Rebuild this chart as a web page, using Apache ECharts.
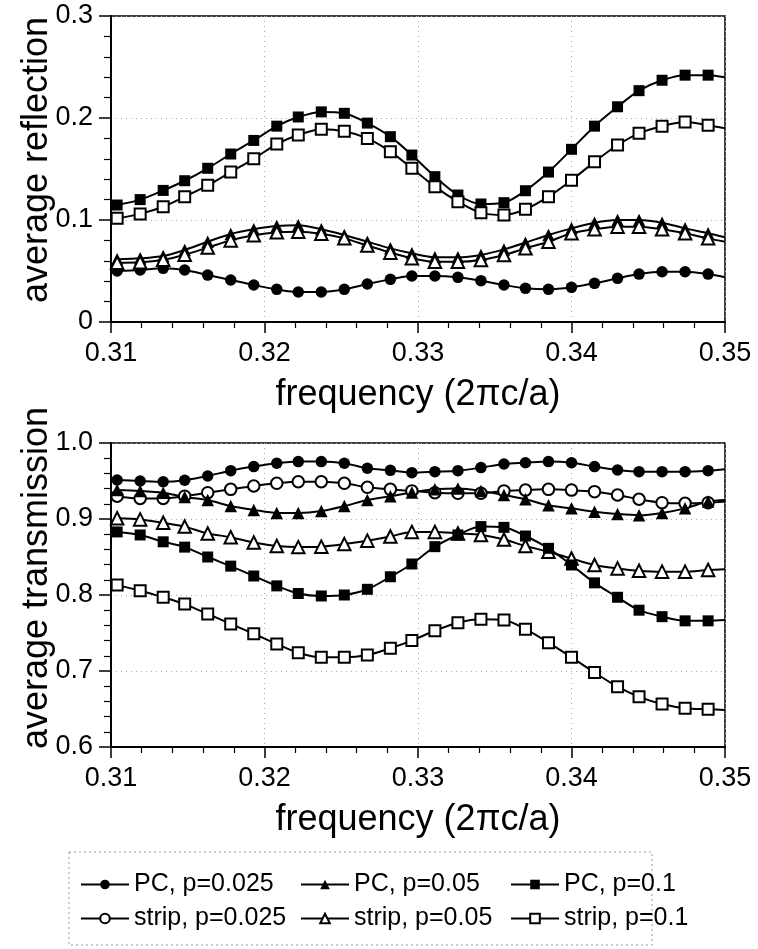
<!DOCTYPE html>
<html><head><meta charset="utf-8">
<script src="https://cdn.jsdelivr.net/npm/echarts@6/dist/echarts.min.js"></script>
<style>html,body{margin:0;padding:0;background:#fff}#c{width:758px;height:949px}</style>
</head><body><div id="c"></div>
<script>
// frequency (2πc/a); last entry is the curve end (no marker)
const freq = [0.3104, 0.3119, 0.3134, 0.3148, 0.3163, 0.3178, 0.3193, 0.3208, 0.3222, 0.3237, 0.3252, 0.3267, 0.3282, 0.3296, 0.3311, 0.3326, 0.3341, 0.3356, 0.3370, 0.3385, 0.3400, 0.3415, 0.3430, 0.3444, 0.3459, 0.3474, 0.3489, 0.3500];

const names = ['PC, p=0.025', 'PC, p=0.05', 'PC, p=0.1', 'strip, p=0.025', 'strip, p=0.05', 'strip, p=0.1'];

// average reflection
const refPC025 = [0.050, 0.051, 0.0526, 0.051, 0.046, 0.0412, 0.0363, 0.032, 0.0294, 0.0294, 0.032, 0.0373, 0.0418, 0.0451, 0.0451, 0.0438, 0.0405, 0.0363, 0.033, 0.032, 0.034, 0.0379, 0.0428, 0.047, 0.0493, 0.0493, 0.047, 0.0438];
const refPC05 = [0.0614, 0.0624, 0.0647, 0.0706, 0.0787, 0.0863, 0.0909, 0.094, 0.0948, 0.091, 0.0853, 0.0787, 0.0722, 0.0673, 0.0634, 0.0634, 0.0657, 0.0712, 0.0778, 0.0853, 0.0918, 0.0974, 0.100, 0.100, 0.0974, 0.0918, 0.087, 0.083];
const refPC1 = [0.1147, 0.120, 0.129, 0.1385, 0.1507, 0.1647, 0.178, 0.192, 0.201, 0.206, 0.2046, 0.195, 0.1817, 0.1637, 0.1425, 0.1245, 0.1157, 0.117, 0.1287, 0.147, 0.1693, 0.192, 0.211, 0.2268, 0.237, 0.242, 0.242, 0.240];
const refStrip05 = [0.058, 0.0585, 0.061, 0.066, 0.073, 0.080, 0.085, 0.088, 0.0885, 0.0865, 0.082, 0.075, 0.068, 0.0624, 0.059, 0.059, 0.0608, 0.0657, 0.0722, 0.0787, 0.087, 0.091, 0.0935, 0.0935, 0.091, 0.087, 0.082, 0.0787];
const refStrip1 = [0.1016, 0.106, 0.113, 0.1229, 0.134, 0.147, 0.160, 0.1745, 0.1833, 0.189, 0.187, 0.180, 0.167, 0.1507, 0.1327, 0.118, 0.107, 0.105, 0.1105, 0.1229, 0.139, 0.157, 0.1735, 0.185, 0.192, 0.196, 0.193, 0.190];

// average transmission
const trPC025 = [0.9513, 0.950, 0.949, 0.951, 0.9566, 0.9636, 0.969, 0.9733, 0.9755, 0.9755, 0.9733, 0.9667, 0.964, 0.961, 0.9623, 0.9636, 0.9676, 0.9724, 0.974, 0.9755, 0.974, 0.969, 0.9645, 0.9623, 0.9623, 0.9623, 0.9636, 0.9654];
const trPC05 = [0.938, 0.937, 0.9346, 0.929, 0.925, 0.917, 0.912, 0.908, 0.908, 0.9105, 0.917, 0.925, 0.930, 0.935, 0.939, 0.940, 0.937, 0.9316, 0.926, 0.918, 0.914, 0.9096, 0.9066, 0.905, 0.908, 0.914, 0.923, 0.925];
const trPC1 = [0.883, 0.879, 0.870, 0.863, 0.850, 0.838, 0.825, 0.812, 0.802, 0.7987, 0.800, 0.8075, 0.824, 0.8408, 0.8636, 0.879, 0.890, 0.889, 0.8776, 0.8614, 0.8395, 0.816, 0.797, 0.780, 0.7715, 0.766, 0.766, 0.767];
const trStrip025 = [0.930, 0.927, 0.927, 0.930, 0.9346, 0.939, 0.9434, 0.947, 0.949, 0.949, 0.947, 0.9417, 0.939, 0.937, 0.9346, 0.9338, 0.9338, 0.937, 0.938, 0.939, 0.938, 0.936, 0.9316, 0.926, 0.9215, 0.9207, 0.9215, 0.923];
const trStrip05 = [0.901, 0.8995, 0.895, 0.890, 0.881, 0.876, 0.869, 0.8645, 0.863, 0.8636, 0.867, 0.8715, 0.877, 0.883, 0.883, 0.881, 0.879, 0.873, 0.8645, 0.857, 0.848, 0.8395, 0.835, 0.832, 0.8307, 0.8307, 0.833, 0.834];
const trStrip1 = [0.813, 0.8057, 0.797, 0.788, 0.775, 0.762, 0.749, 0.7355, 0.724, 0.718, 0.718, 0.721, 0.730, 0.740, 0.753, 0.7635, 0.768, 0.767, 0.755, 0.7373, 0.718, 0.698, 0.6793, 0.666, 0.6566, 0.651, 0.6496, 0.6487];

const FONT = '"Liberation Sans", Arial, Helvetica, sans-serif';
const symbols = {
  'PC, p=0.025': 'circle', 'PC, p=0.05': 'triangle', 'PC, p=0.1': 'rect',
  'strip, p=0.025': 'emptyCircle', 'strip, p=0.05': 'emptyTriangle', 'strip, p=0.1': 'emptyRect'
};

function mk(name, vals, g) {
  const sym = symbols[name];
  const empty = sym.indexOf('empty') === 0;
  const low = sym.toLowerCase();
  return {
    name, type: 'line', xAxisIndex: g, yAxisIndex: g,
    smooth: 0.3, symbol: sym,
    symbolSize: low.indexOf('triangle') >= 0 ? 12.5 : (low.indexOf('rect') >= 0 ? 11 : 11.5),
    lineStyle: { color: '#000', width: 2 },
    itemStyle: { color: '#000', borderColor: '#000', borderWidth: empty ? 1.7 : 0 },
    emphasis: { disabled: true },
    data: vals.map((v, i) => i === vals.length - 1 ? { value: [freq[i], v], symbol: 'none' } : [freq[i], v])
  };
}

function xAx(g) {
  return {
    type: 'value', gridIndex: g, min: 0.31, max: 0.35, interval: 0.01,
    axisLine: { onZero: false, lineStyle: { color: '#000', width: 2 } },
    axisTick: { length: 11, lineStyle: { color: '#000', width: 1.5 } },
    minorTick: { show: true, splitNumber: 5, length: 6, lineStyle: { color: '#000', width: 1.2 } },
    axisLabel: { fontSize: 27, color: '#000', fontFamily: FONT, margin: 18, formatter: v => v.toFixed(2) },
    splitLine: { show: true, lineStyle: { color: '#aaa', type: [1, 4], width: 1 } },
    name: 'frequency (2πc/a)', nameLocation: 'middle', nameGap: 55,
    nameTextStyle: { fontSize: 36, color: '#000', fontFamily: FONT }
  };
}
function yAx(g, min, max, name, fmt, pad) {
  return {
    type: 'value', gridIndex: g, min, max, interval: 0.1,
    axisLine: { onZero: false, lineStyle: { color: '#000', width: 2 } },
    axisTick: { length: 12, lineStyle: { color: '#000', width: 1.5 } },
    minorTick: { show: true, splitNumber: 5, length: 7, lineStyle: { color: '#000', width: 1.2 } },
    axisLabel: { fontSize: 27, color: '#000', fontFamily: FONT, margin: 18, formatter: fmt },
    splitLine: { show: true, lineStyle: { color: '#aaa', type: [1, 4], width: 1 } },
    name, nameLocation: 'middle', nameGap: 56, nameMoveOverlap: false,
    nameTextStyle: { fontSize: 36, color: '#000', fontFamily: FONT, padding: [0, 0, 0, pad] }
  };
}

const legendPos = [
  [80, 872], [300, 872], [510, 872],
  [80, 906], [300, 906], [510, 906]
];

const chart = echarts.init(document.getElementById('c'), null, { renderer: 'canvas' });
chart.setOption({
  animation: false,
  backgroundColor: '#fff',
  grid: [
    { left: 111, top: 16, width: 614, height: 306, show: true, borderColor: '#000', borderWidth: 1.5, backgroundColor: 'transparent' },
    { left: 111, top: 443, width: 614, height: 304, show: true, borderColor: '#000', borderWidth: 1.5, backgroundColor: 'transparent' }
  ],
  xAxis: [xAx(0), xAx(1)],
  yAxis: [
    yAx(0, 0, 0.3, 'average reflection', v => v === 0 ? '0' : v.toFixed(1), 18),
    yAx(1, 0.6, 1.0, 'average transmission', v => v.toFixed(1), 34)
  ],
  legend: names.map((n, i) => ({
    data: [n], left: legendPos[i][0], top: legendPos[i][1], padding: 0,
    itemWidth: 48, itemHeight: 12, selectedMode: false,
    textStyle: { fontSize: 25, color: '#000', fontFamily: FONT }
  })),
  graphic: [{
    type: 'rect', shape: { x: 69, y: 852, width: 583, height: 93 },
    style: { fill: 'none', stroke: '#999', lineWidth: 1, lineDash: [2, 3] }
  }],
  series: [
    mk('PC, p=0.025', refPC025, 0),
    mk('PC, p=0.05', refPC05, 0),
    mk('strip, p=0.05', refStrip05, 0),
    mk('PC, p=0.1', refPC1, 0),
    mk('strip, p=0.1', refStrip1, 0),
    mk('PC, p=0.025', trPC025, 1),
    mk('strip, p=0.025', trStrip025, 1),
    mk('PC, p=0.05', trPC05, 1),
    mk('strip, p=0.05', trStrip05, 1),
    mk('PC, p=0.1', trPC1, 1),
    mk('strip, p=0.1', trStrip1, 1)
  ]
});
</script>
</body></html>
